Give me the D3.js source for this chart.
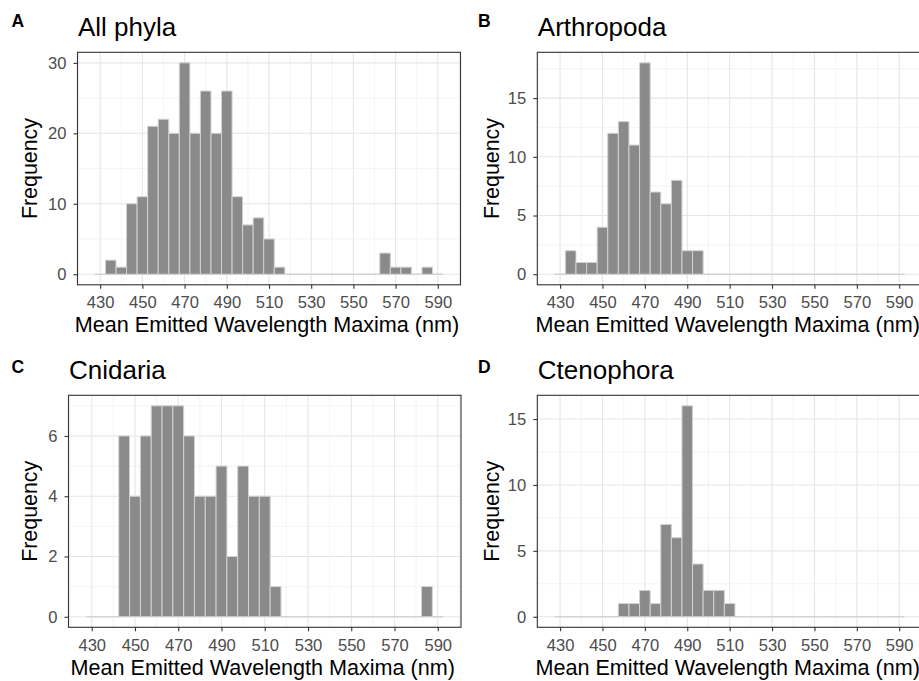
<!DOCTYPE html>
<html><head><meta charset="utf-8">
<script src="https://cdn.jsdelivr.net/npm/d3@7"></script>
<style>
body{margin:0;background:#fff;}
svg{display:block;font-family:"Liberation Sans",Arial,sans-serif;}
</style></head>
<body><svg id="c" width="919" height="681"></svg>
<script>
// ---- data ----
const binCenters = [430,435,440,445,450,455,460,465,470,475,480,485,490,495,500,505,510,515,520,525,530,535,540,545,550,555,560,565,570,575,580,585,590];
const countsAll        = [0,2,1,10,11,21,22,20,30,20,26,20,26,11,7,8,5,1,0,0,0,0,0,0,0,0,0,3,1,1,0,1,0];
const countsArthropoda = [0,2,1,1,4,12,13,11,18,7,6,8,2,2,0,0,0,0,0,0,0,0,0,0,0,0,0,0,0,0,0,0,0];
const countsCnidaria   = [0,0,0,6,4,6,7,7,7,6,4,4,5,2,5,4,4,1,0,0,0,0,0,0,0,0,0,0,0,0,0,1,0];
const countsCtenophora = [0,0,0,0,0,0,1,1,2,1,7,6,16,4,2,2,1,0,0,0,0,0,0,0,0,0,0,0,0,0,0,0,0];
const panelTitles = ["All phyla","Arthropoda","Cnidaria","Ctenophora"];
const panelLetters = ["A","B","C","D"];
const xTicks = [430,450,470,490,510,530,550,570,590];
const xMinor = [420,440,460,480,500,520,540,560,580,600];
const yTicksA = [0,10,20,30], yMinorA = [5,15,25];
const yTicksB = [0,5,10,15], yMinorB = [2.5,7.5,12.5,17.5];
const yTicksC = [0,2,4,6], yMinorC = [1,3,5,7];
const yTicksD = [0,5,10,15], yMinorD = [2.5,7.5,12.5];
const xLabel = "Mean Emitted Wavelength Maxima (nm)";
const yLabel = "Frequency";
const binWidth = 5;

const panels = [
  {counts:countsAll, yt:yTicksA, ym:yMinorA, ymax:30, L:77.5, R:460.5, T:52.3, B:284.8, ylabX:37},
  {counts:countsArthropoda, yt:yTicksB, ym:yMinorB, ymax:18, L:537.3, R:922, T:52.3, B:284.8, ylabX:499},
  {counts:countsCnidaria, yt:yTicksC, ym:yMinorC, ymax:7, L:68.5, R:461, T:395.3, B:627.3, ylabX:37},
  {counts:countsCtenophora, yt:yTicksD, ym:yMinorD, ymax:16, L:537.3, R:922, T:395.3, B:627.3, ylabX:499}
];

const svg = d3.select("#c");
const xlo = binCenters[0]-binWidth/2, xhi = binCenters[binCenters.length-1]+binWidth/2;
const xpad = (xhi-xlo)*0.05;

panels.forEach((p,i)=>{
  const g = svg.append("g");
  const x = d3.scaleLinear().domain([xlo-xpad, xhi+xpad]).range([p.L,p.R]);
  const ypad = p.ymax*0.05;
  const y = d3.scaleLinear().domain([-ypad, p.ymax+ypad]).range([p.B,p.T]);
  // grid
  g.selectAll(".xm").data(xMinor).join("line")
    .attr("x1",d=>x(d)).attr("x2",d=>x(d)).attr("y1",p.T).attr("y2",p.B)
    .attr("stroke","#efefef").attr("stroke-width",0.7);
  g.selectAll(".ym").data(p.ym).join("line")
    .attr("y1",d=>y(d)).attr("y2",d=>y(d)).attr("x1",p.L).attr("x2",p.R)
    .attr("stroke","#efefef").attr("stroke-width",0.7);
  g.selectAll(".xM").data(xTicks).join("line")
    .attr("x1",d=>x(d)).attr("x2",d=>x(d)).attr("y1",p.T).attr("y2",p.B)
    .attr("stroke","#e6e6e6").attr("stroke-width",1.1);
  g.selectAll(".yM").data(p.yt).join("line")
    .attr("y1",d=>y(d)).attr("y2",d=>y(d)).attr("x1",p.L).attr("x2",p.R)
    .attr("stroke","#e6e6e6").attr("stroke-width",1.1);
  // bars
  const data = binCenters.map((c,k)=>({c, n:p.counts[k]}));
  g.selectAll(".bar").data(data).join("path")
    .attr("d",d=>{
      const x0=x(d.c-binWidth/2), x1=x(d.c+binWidth/2), y0=y(0), y1=y(d.n);
      return `M${x0},${y0}V${y1}H${x1}V${y0}Z`;
    })
    .attr("fill","#8a8a8a").attr("stroke","#d2d2d2").attr("stroke-width",1);
  // frame
  g.append("rect").attr("x",p.L).attr("y",p.T).attr("width",p.R-p.L).attr("height",p.B-p.T)
    .attr("fill","none").attr("stroke","#333").attr("stroke-width",1.1);
  // axes
  const ax = g.append("g").attr("transform",`translate(0,${p.B})`)
    .call(d3.axisBottom(x).tickValues(xTicks).tickSize(4).tickPadding(7.5).tickFormat(d3.format("d")));
  const ay = g.append("g").attr("transform",`translate(${p.L},0)`)
    .call(d3.axisLeft(y).tickValues(p.yt).tickSize(4).tickPadding(7).tickFormat(d3.format("d")));
  [ax,ay].forEach(a=>{
    a.select(".domain").remove();
    a.selectAll(".tick line").attr("stroke","#333").attr("stroke-width",1.1);
    a.selectAll(".tick text").attr("fill","#4d4d4d").style("font-size","16.6px")
      .style("font-family","'Liberation Sans',Arial,sans-serif");
  });
  // axis titles
  g.append("text").attr("x",(p.L+p.R)/2 - 2).attr("y",p.B+47.5).attr("text-anchor","middle")
    .style("font-size","21.6px").attr("fill","#000").text(xLabel);
  g.append("text").attr("transform",`translate(${p.ylabX},${(p.T+p.B)/2}) rotate(-90)`)
    .attr("text-anchor","middle").style("font-size","21.4px").attr("fill","#000").text(yLabel);
  // title
  g.append("text").attr("x",p.L+0.5).attr("y",p.T-16.5).style("font-size","26px")
    .attr("fill","#000").text(panelTitles[i]);
  // letter
  g.append("text").attr("x",i%2===0?11.5:478).attr("y",i<2?26.5:372.5)
    .style("font-size","17.5px").style("font-weight","bold").attr("fill","#000").text(panelLetters[i]);
});
</script></body></html>
